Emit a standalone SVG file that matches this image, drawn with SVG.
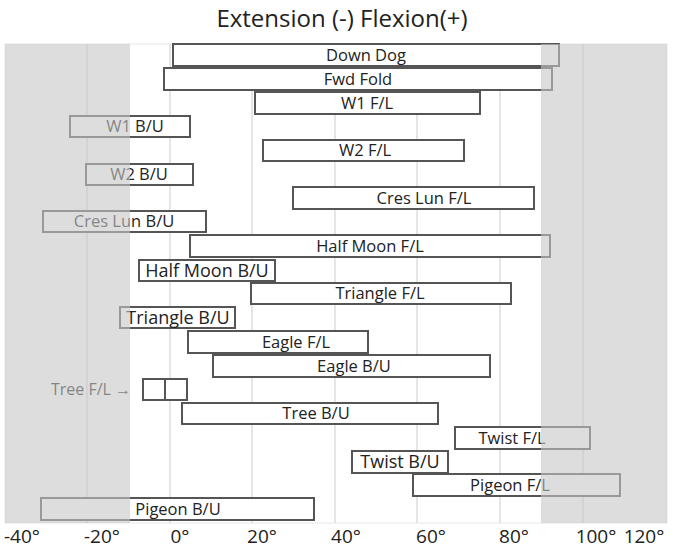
<svg xmlns="http://www.w3.org/2000/svg" width="684" height="554" viewBox="0 0 684 554">
<style>
.b{fill:#fff;stroke:#555;stroke-width:2}
.t{font-family:"Open Sans","Noto Sans",sans-serif;font-size:16.5px;fill:#222;text-anchor:middle}
.big{font-size:18px}
.g{stroke:#dcdcdc;stroke-width:1.5}
.ax{font-family:"Open Sans","Noto Sans",sans-serif;font-size:19px;fill:#222;text-anchor:middle}
</style>
<rect width="684" height="554" fill="#fff"/>
<rect x="5" y="44" width="662" height="479" fill="#fff" stroke="#e8e8e8"/>
<g id="grid">
<line class="g" x1="87" y1="44" x2="87" y2="523"/><line class="g" x1="170" y1="44" x2="170" y2="523"/>
<line class="g" x1="252" y1="44" x2="252" y2="523"/><line class="g" x1="335" y1="44" x2="335" y2="523"/>
<line class="g" x1="417" y1="44" x2="417" y2="523"/><line class="g" x1="500" y1="44" x2="500" y2="523"/>
<line class="g" x1="583" y1="44" x2="583" y2="523"/>
</g>
<text x="342" y="27" font-family="Open Sans,Noto Sans,sans-serif" font-size="24" fill="#222" text-anchor="middle">Extension (-) Flexion(+)</text>
<g id="n1"><rect class="b" x="173" y="44" width="386" height="22"/><text class="t" x="366" y="61">Down Dog</text></g>
<g id="n2"><rect class="b" x="164" y="68" width="388" height="22"/><text class="t" x="358" y="85">Fwd Fold</text></g>
<g id="n3"><rect class="b" x="255" y="92" width="225" height="22"/><text class="t" x="367" y="109">W1 F/L</text></g>
<g id="n4"><rect class="b" x="70" y="116" width="120" height="21"/><text class="t" x="135" y="132">W1 B/U</text></g>
<g id="n5"><rect class="b" x="263" y="140" width="201" height="21"/><text class="t" x="365" y="156">W2 F/L</text></g>
<g id="n6"><rect class="b" x="86" y="164" width="107" height="21"/><text class="t" x="139" y="180">W2 B/U</text></g>
<g id="n7"><rect class="b" x="293" y="187" width="241" height="22"/><text class="t" x="424" y="204">Cres Lun F/L</text></g>
<g id="n8"><rect class="b" x="43" y="211" width="163" height="21"/><text class="t" x="124" y="227">Cres Lun B/U</text></g>
<g id="n9"><rect class="b" x="190" y="235" width="360" height="22"/><text class="t" x="370" y="252">Half Moon F/L</text></g>
<g id="n10"><rect class="b" x="139" y="260" width="136" height="21"/><text class="t big" x="207" y="277">Half Moon B/U</text></g>
<g id="n11"><rect class="b" x="251" y="283" width="260" height="21"/><text class="t" x="380" y="299">Triangle F/L</text></g>
<g id="n12"><rect class="b" x="120" y="307" width="115" height="21"/><text class="t big" x="178" y="324">Triangle B/U</text></g>
<g id="n13"><rect class="b" x="188" y="331" width="180" height="22"/><text class="t" x="296" y="348">Eagle F/L</text></g>
<g id="n14"><rect class="b" x="213" y="355" width="277" height="22"/><text class="t" x="354" y="372">Eagle B/U</text></g>
<g id="n15"><rect class="b" x="143" y="379" width="44" height="21"/><line x1="165" y1="379" x2="165" y2="400" stroke="#555" stroke-width="2"/>
<text x="91" y="395" font-family="Open Sans,Noto Sans,sans-serif" font-size="16" fill="#222" text-anchor="middle">Tree F/L →</text></g>
<g id="n16"><rect class="b" x="182" y="403" width="256" height="21"/><text class="t" x="316" y="419">Tree B/U</text></g>
<g id="n17"><rect class="b" x="455" y="427" width="135" height="22"/><text class="t" x="512" y="444">Twist F/L</text></g>
<g id="n18"><rect class="b" x="352" y="451" width="96" height="22"/><text class="t big" x="400" y="468">Twist B/U</text></g>
<g id="n19"><rect class="b" x="413" y="474" width="207" height="22"/><text class="t" x="510" y="491">Pigeon F/L</text></g>
<g id="n20"><rect class="b" x="41" y="498" width="273" height="22"/><text class="t" x="178" y="515">Pigeon B/U</text></g>
<g id="shade" fill="#c6c6c6" opacity="0.6">
<rect x="5" y="44" width="125" height="479"/>
<rect x="541" y="44" width="126" height="479"/>
</g>
<g id="axis">
<text class="ax" x="22" y="543">-40°</text><text class="ax" x="102" y="543">-20°</text>
<text class="ax" x="180" y="543">0°</text><text class="ax" x="262" y="543">20°</text>
<text class="ax" x="346" y="543">40°</text><text class="ax" x="431" y="543">60°</text>
<text class="ax" x="514" y="543">80°</text><text class="ax" x="596" y="543">100°</text>
<text class="ax" x="644" y="543">120°</text>
</g>
</svg>
